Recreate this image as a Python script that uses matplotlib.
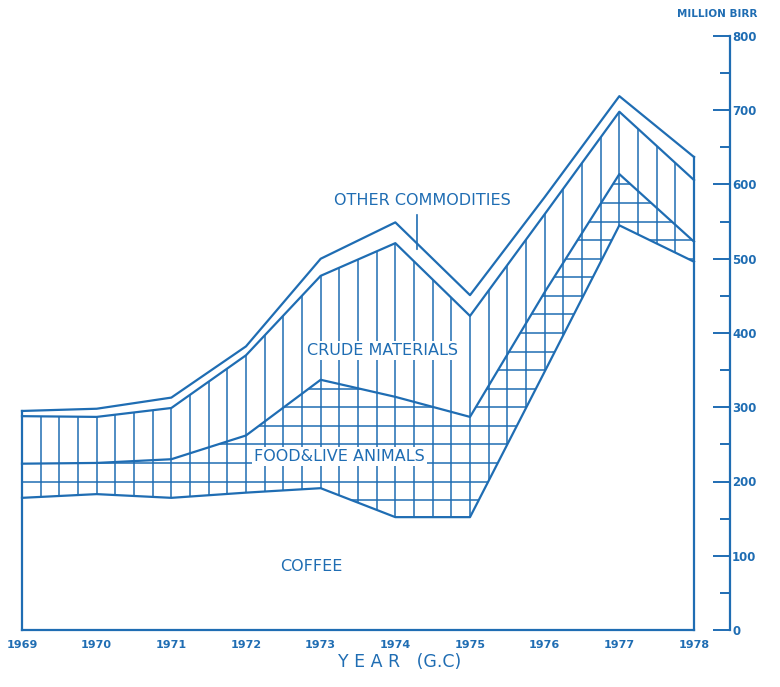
import matplotlib.pyplot as plt
import numpy as np

# export values, million birr
years = np.arange(1969, 1979)
coffee = [178, 183, 178, 185, 191, 152, 152, 348, 545, 496]
food_live_animals = [46, 42, 52, 77, 146, 162, 135, 107, 69, 27]
crude_materials = [64, 62, 69, 108, 140, 207, 136, 105, 84, 83]
other_commodities = [7, 11, 14, 12, 23, 28, 28, 23, 21, 31]
year_labels = [str(y) for y in years]
y_ticks = [0, 100, 200, 300, 400, 500, 600, 700, 800]

BLUE = '#1f6db3'

fig = plt.figure(figsize=(7.8, 6.87), dpi=100)
ax = fig.add_axes([22 / 780, 57 / 687, 672 / 780, 594 / 687])
ax.set_xlim(1969, 1978)
ax.set_ylim(0, 800)
for s in ax.spines.values():
    s.set_visible(False)

# stacked tops
top1 = np.array(coffee)
top2 = top1 + np.array(food_live_animals)
top3 = top2 + np.array(crude_materials)
top4 = top3 + np.array(other_commodities)

# hatching: vertical lines over food + crude, horizontal lines over food only
vert_area = ax.fill_between(years, top1, top3, facecolor='none', edgecolor='none')
grid_area = ax.fill_between(years, top1, top2, facecolor='none', edgecolor='none')

vl = ax.vlines(np.arange(1969, 1978.01, 0.25), 0, 800, colors=BLUE, lw=1.1)
vl.set_clip_path(vert_area.get_paths()[0], ax.transData)
hl = ax.hlines(np.arange(0, 801, 25), 1969, 1978, colors=BLUE, lw=1.1)
hl.set_clip_path(grid_area.get_paths()[0], ax.transData)

for top in (top1, top2, top3, top4):
    ax.plot(years, top, color=BLUE, lw=1.6, clip_on=False)

# outline of the chart body
ax.plot([years[0], years[0]], [0, top4[0]], color=BLUE, lw=1.6, clip_on=False)
ax.plot([years[-1], years[-1]], [0, top4[-1]], color=BLUE, lw=1.6, clip_on=False)
ax.plot([years[0], years[-1]], [0, 0], color=BLUE, lw=1.6, clip_on=False)

# area labels
lbl = dict(color=BLUE, fontsize=11.5, ha='center', va='center')
box = dict(facecolor='white', edgecolor='none', pad=1.5)
ax.text(1974.36, 578, 'OTHER COMMODITIES', **lbl)
ax.annotate('', xy=(1974.29, 509), xytext=(1974.29, 563),
            arrowprops=dict(arrowstyle='-', color=BLUE, lw=1.2))
ax.text(1973.83, 377, 'CRUDE MATERIALS', bbox=box, **lbl)
ax.text(1973.25, 234, 'FOOD&LIVE ANIMALS', bbox=box, **lbl)
ax.text(1972.87, 85, 'COFFEE', **lbl)

ax.set_yticks([])
ax.set_xticks(years, year_labels)
ax.tick_params(axis='x', length=0, pad=7, labelsize=8, labelcolor=BLUE)
for t in ax.get_xticklabels():
    t.set_fontweight('bold')

# separate value scale on the right
ax2 = fig.add_axes([700 / 780, 57 / 687, 30 / 780, 594 / 687])
ax2.set_ylim(0, 800)
ax2.patch.set_visible(False)
for name, s in ax2.spines.items():
    s.set_visible(name == 'right')
ax2.spines['right'].set_color(BLUE)
ax2.spines['right'].set_linewidth(1.6)
ax2.set_xticks([])
ax2.yaxis.set_ticks_position('right')
ax2.set_yticks(y_ticks)
ax2.set_yticks(np.arange(50, 800, 100), minor=True)
ax2.tick_params(axis='y', which='major', direction='in', length=12, width=1.4,
                color=BLUE, labelcolor=BLUE, labelsize=8.5, pad=1.5)
ax2.tick_params(axis='y', which='minor', direction='in', length=7, width=1.4,
                color=BLUE)
for t in ax2.get_yticklabels():
    t.set_fontweight('bold')

fig.text(717 / 780, 1 - 14 / 687, 'MILLION BIRR', color=BLUE, fontsize=7.5,
         fontweight='bold', ha='center', va='center')
fig.text(400 / 780, 1 - 662 / 687, 'Y E A R   (G.C)', color=BLUE, fontsize=12.5,
         ha='center', va='center')

fig.savefig('out.png', dpi=100)
